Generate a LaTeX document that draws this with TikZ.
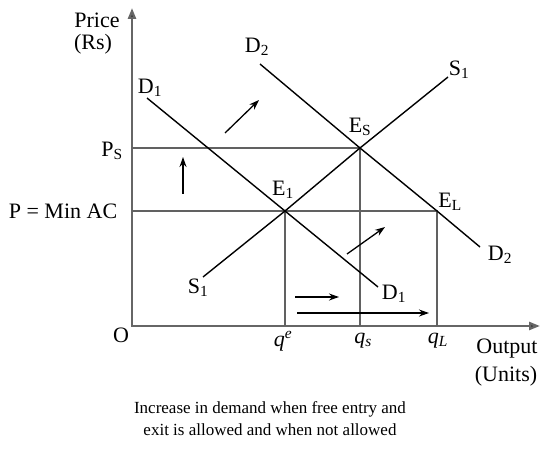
\documentclass[tikz,border=0pt]{standalone}
\usepackage{fontspec}
\setmainfont{Liberation Serif}
\usetikzlibrary{arrows.meta}

\tikzset{
  axis/.style={line width=2.4pt, draw=black!60},
  guide/.style={line width=1.9pt, draw=black!62},
  curve/.style={line width=1.4pt},
  push/.style={-{Stealth[length=10pt,width=7pt]}, line width=1.3pt},
  lbl/.style={font=\fontsize{22}{24}\selectfont, inner sep=0pt},
  caption/.style={font=\fontsize{17}{22}\selectfont, align=center, inner sep=0pt}
}

\begin{document}
\begin{tikzpicture}[x=1pt, y=-1pt]
  \useasboundingbox (0,0) rectangle (543,457);

  % Points
  \coordinate (O) at (132,326);
  \coordinate (ytop) at (132,8);
  \coordinate (xend) at (540,326);
  \coordinate (E1) at (285,211);
  \coordinate (ES) at (360,148);
  \coordinate (EL) at (437,211);
  \coordinate (PS) at (132,148);
  \coordinate (PM) at (132,211);
  \coordinate (qe) at (285,326);
  \coordinate (qs) at (360,326);
  \coordinate (qL) at (437,326);
  \coordinate (D1a) at (147,98);
  \coordinate (D1b) at (378,287);
  \coordinate (D2a) at (260,64);
  \coordinate (D2b) at (480,247);
  \coordinate (S1a) at (203,277);
  \coordinate (S1b) at (448,77);

  % Axes
  \draw[axis, {Triangle[length=11pt,width=8pt,fill=black]}-{Triangle[length=11pt,width=8pt,fill=black]}] (ytop) -- (O) -- (xend);

  % Guide lines
  \draw[guide] (PS) -- (ES) -- (qs);
  \draw[guide] (PM) -- (EL) -- (qL);
  \draw[guide] (E1) -- (qe);

  % Curves
  \draw[curve] (D1a) -- (E1) -- (D1b);
  \draw[curve] (D2a) -- (ES) -- (EL) -- (D2b);
  \draw[curve] (S1a) -- (E1) -- (ES) -- (S1b);

  % Shift arrows
  \draw[push] (225,133) -- (259,100);
  \draw[push] (183,194) -- (183,157);
  \draw[push] (347,254) -- (385,227);
  \draw[push] (295,297) -- (339,297);
  \draw[push] (297,313) -- (429,313);

  % Labels
  \node[lbl] (price) at (97,20) {Price};
  \node[lbl] (rs) at (93,44) {(Rs)};
  \node[lbl] (ps) at (112,151) {P\textsubscript{S}};
  \node[lbl] (pmin) at (63,211) {P = Min AC};
  \node[lbl] (o) at (121,335) {O};
  \node[lbl] (d1top) at (150,88) {D\textsubscript{1}};
  \node[lbl] (d2top) at (257,47) {D\textsubscript{2}};
  \node[lbl] (s1top) at (459,70) {S\textsubscript{1}};
  \node[lbl] (s1bot) at (198,288) {S\textsubscript{1}};
  \node[lbl] (d1bot) at (394,294) {D\textsubscript{1}};
  \node[lbl] (d2bot) at (500,255) {D\textsubscript{2}};
  \node[lbl] (eslbl) at (360,127) {E\textsubscript{S}};
  \node[lbl] (e1lbl) at (283,190) {E\textsubscript{1}};
  \node[lbl] (ellbl) at (450,202) {E\textsubscript{L}};
  \node[lbl] (qelbl) at (283,341) {\textit{q}\textsuperscript{\textit{e}}};
  \node[lbl] (qslbl) at (363,341) {\textit{q}\textsubscript{\textit{s}}};
  \node[lbl] (qllbl) at (438,341) {\textit{q}\textsubscript{\textit{L}}};
  \node[lbl] (output) at (507,349) {Output};
  \node[lbl] (units) at (506,376) {(Units)};
  \node[caption] (cap) at (270,419) {Increase in demand when free entry and\\exit is allowed and when not allowed};
\end{tikzpicture}
\end{document}
